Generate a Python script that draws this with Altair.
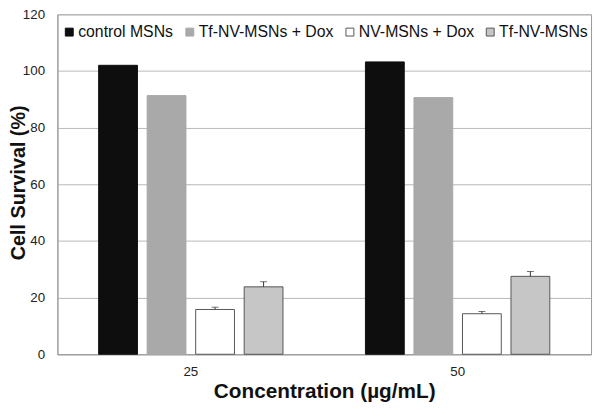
import altair as alt
import pandas as pd

concentrations = ["25", "50"]
series = ["control MSNs", "Tf-NV-MSNs + Dox", "NV-MSNs + Dox", "Tf-NV-MSNs"]
values_25 = [102.0, 91.3, 15.8, 23.8]
values_50 = [103.2, 90.6, 14.3, 27.5]
errors_25 = [0.0, 0.0, 0.8, 1.8]
errors_50 = [0.0, 0.0, 0.8, 1.7]
fills = ["#0e0e0e", "#a9a9a9", "#ffffff", "#c6c6c6"]
strokes = ["#0e0e0e", "#a9a9a9", "#555555", "#555555"]

rows = []
for conc, vals, errs in [("25", values_25, errors_25), ("50", values_50, errors_50)]:
    for s, v, e in zip(series, vals, errs):
        rows.append({"conc": conc, "series": s, "value": v, "err": e, "top": v + e})
df = pd.DataFrame(rows)

FONT = "Liberation Sans"

x_enc = alt.X("conc:N", sort=concentrations,
              scale=alt.Scale(paddingInner=0, paddingOuter=0),
              axis=alt.Axis(title="Concentration (µg/mL)", labelAngle=0, ticks=False,
                            labelFontSize=13.5, labelPadding=11, labelColor="#222",
                            titleFontSize=21, titleFontWeight="bold", titleColor="#111",
                            titleX=270, titleY=38, titleBaseline="middle",
                            domainColor="#999", grid=False))
xoff = alt.XOffset("series:N", sort=series,
                   scale=alt.Scale(paddingInner=0.2, paddingOuter=0.85))

bars = alt.Chart(df).mark_bar(strokeWidth=1).encode(
    x=x_enc,
    xOffset=xoff,
    y=alt.Y("value:Q", scale=alt.Scale(domain=[0, 120], nice=False),
            axis=alt.Axis(title="Cell Survival (%)", values=[0, 20, 40, 60, 80, 100, 120],
                          ticks=False, labelFontSize=13.5, labelPadding=13, labelColor="#222",
                          titleFontSize=20, titleFontWeight="bold", titleColor="#111",
                          titleX=-39, titleY=170, titleBaseline="middle",
                          gridColor="#b8b8b8", domainColor="#999")),
    fill=alt.Fill("series:N", sort=series,
                  scale=alt.Scale(domain=series, range=fills),
                  legend=alt.Legend(title=None, orient="none", direction="horizontal",
                                    legendX=4, legendY=10, symbolType="square",
                                    symbolSize=64, labelFontSize=16, labelOffset=1,
                                    columnPadding=8, labelColor="#111", padding=0,
                                    symbolStrokeWidth=1)),
    stroke=alt.Stroke("series:N", sort=series,
                      scale=alt.Scale(domain=series, range=strokes), legend=None),
)

err_df = df[df["err"] > 0]
rules = alt.Chart(err_df).mark_rule(color="#333", strokeWidth=1).encode(
    x=alt.X("conc:N", sort=concentrations),
    xOffset=alt.XOffset("series:N", sort=series),
    y="value:Q",
    y2="top:Q",
)
caps = alt.Chart(err_df).mark_tick(color="#333", thickness=1, size=7, orient="horizontal").encode(
    x=alt.X("conc:N", sort=concentrations),
    xOffset=alt.XOffset("series:N", sort=series),
    y="top:Q",
)

chart = alt.layer(bars, rules, caps).properties(
    width=540, height=344,
    autosize=alt.AutoSizeParams(type="none"),
    padding={"left": 50, "top": 4, "right": 2, "bottom": 52},
).configure(font=FONT).configure_view(stroke="#999", strokeWidth=1)

chart.save("out.html", embed_options={"renderer": "svg", "actions": False})
